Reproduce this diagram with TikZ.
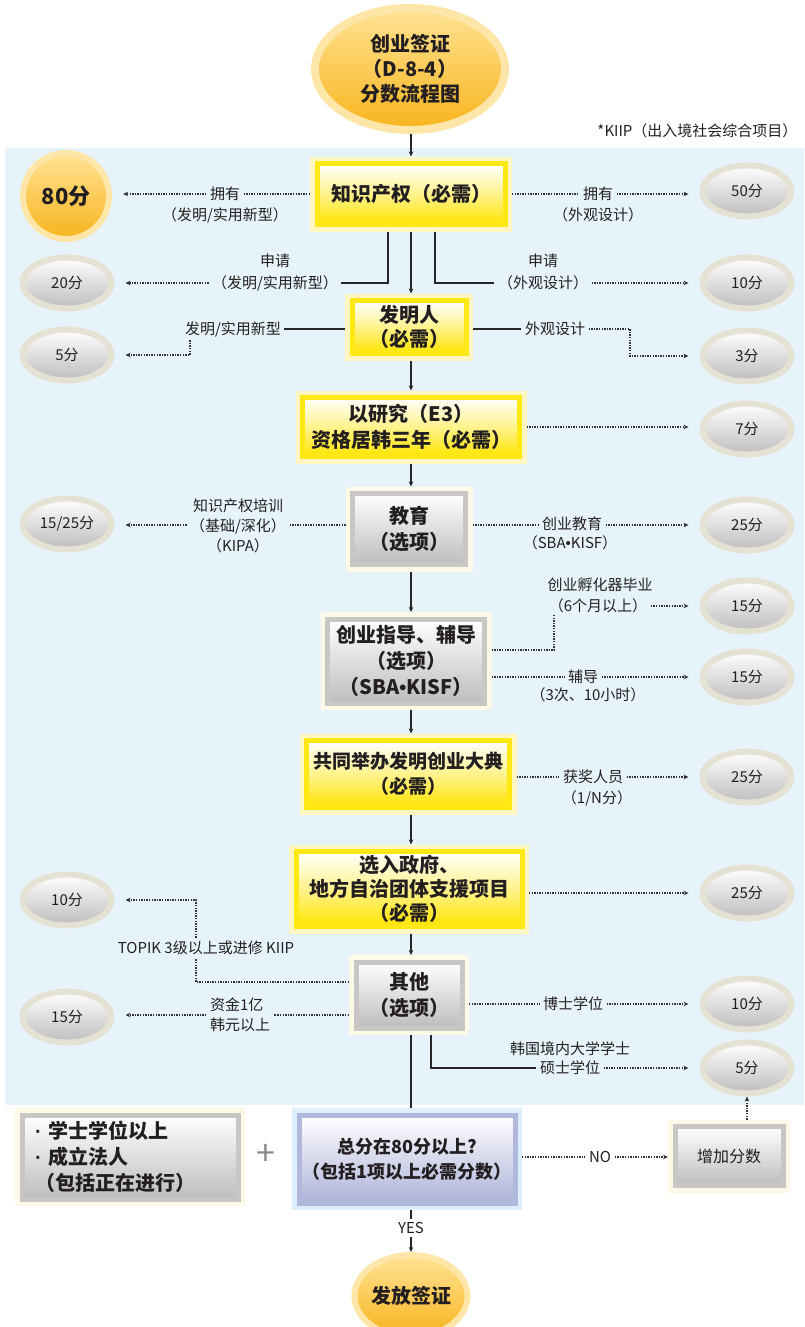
\documentclass[tikz,border=0pt]{standalone}
\usepackage{fontspec}
\setmainfont{Noto Sans CJK SC}
\newfontfamily\latf{Liberation Sans}
\usetikzlibrary{shapes.geometric,arrows.meta,calc}
\definecolor{bgblue}{HTML}{E7F3FB}
\definecolor{txt}{HTML}{231F20}
\definecolor{yframe}{HTML}{FFE814}
\definecolor{yhalo}{HTML}{FFF6C2}
\definecolor{yfill}{HTML}{FFE400}
\definecolor{gframe}{HTML}{C8C7C5}
\definecolor{ghalo}{HTML}{FCFAE6}
\definecolor{gfill}{HTML}{BEBDBB}
\definecolor{lframe}{HTML}{B2B7DC}
\definecolor{lhalo}{HTML}{DDEFFA}
\definecolor{lfill}{HTML}{AEB3DA}
\definecolor{gring}{HTML}{E5E2D3}
\definecolor{ellfill}{HTML}{BDBDBD}
\definecolor{oring}{HTML}{FDE6A8}
\definecolor{otop}{HTML}{FFE395}
\definecolor{obot}{HTML}{F8B41C}
\definecolor{plusgray}{HTML}{8A8A8A}
\tikzset{
  every node/.style={font=\fontsize{15}{20}\selectfont, text=txt},
  boxbase/.style={rectangle, line width=5pt, inner sep=0pt, outer sep=7pt, align=center,
    font=\bfseries\fontsize{20}{26}\selectfont},
  ybox/.style={boxbase, draw=yframe, top color=white, bottom color=yfill, middle color=yfill!45,
    preaction={draw=yhalo, line width=14pt}},
  gbox/.style={boxbase, draw=gframe, top color=white, bottom color=gfill,
    preaction={draw=ghalo, line width=14pt}},
  lbox/.style={boxbase, draw=lframe, top color=white, bottom color=lfill,
    preaction={draw=lhalo, line width=14pt}},
  gell/.style={ellipse, draw=gring, line width=6pt, top color=white, bottom color=ellfill,
    minimum width=89pt, minimum height=51pt, inner sep=0pt, outer sep=3pt},
  oell/.style={ellipse, draw=oring, line width=6pt, top color=otop, bottom color=obot,
    inner sep=0pt, outer sep=3pt, align=center},
  arr/.style={line width=1.1pt, draw=black!85, -{Stealth[length=5pt,width=4.5pt]}},
  solidl/.style={line width=1.6pt, draw=black!85},
  dot/.style={line width=1.4pt, draw=black!80, dash pattern=on 1.4pt off 1.2pt},
  dotarrow/.style={dot, -{Stealth[length=5pt,width=4.5pt]}},
  toell/.style={shorten >=11pt}
}
\begin{document}
\begin{tikzpicture}[x=1pt,y=-1pt]
\useasboundingbox (0,0) rectangle (804,1327);
\fill[bgblue] (5,148) rectangle (804,1105);

% title
\node[oell, minimum width=190pt, minimum height=122pt, line width=8pt, outer sep=4pt,
  font=\bfseries\fontsize{20}{25}\selectfont] (T) at (410,69) {创业签证\\（D-8-4）\\分数流程图};
\node[anchor=east] (kiip) at (801,131) {*KIIP（出入境社会综合项目）};

% main boxes
\node[ybox, minimum width=188pt, minimum height=61pt] (B1) at (411,194) {知识产权（必需）};
\node[ybox, minimum width=114pt, minimum height=53pt, font=\bfseries\fontsize{20}{24}\selectfont] (B2) at (409,327) {发明人\\（必需）};
\node[ybox, minimum width=217pt, minimum height=59pt] (B3) at (411,427) {以研究（E3）\\资格居韩三年（必需）};
\node[gbox, minimum width=113pt, minimum height=71pt] (B4) at (409,529) {教育\\（选项）};
\node[gbox, minimum width=157pt, minimum height=84pt] (B5) at (406,661) {创业指导、辅导\\（选项）\\（SBA{\latf\bfseries •}KISF）};
\node[ybox, minimum width=203pt, minimum height=67pt, font=\bfseries\fontsize{19}{25}\selectfont] (B6) at (408,774) {共同举办发明创业大典\\（必需）};
\node[ybox, minimum width=226pt, minimum height=75pt, font=\bfseries\fontsize{20}{24}\selectfont] (B7) at (409,889) {选入政府、\\地方自治团体支援项目\\（必需）};
\node[gbox, minimum width=106pt, minimum height=66pt] (B8) at (409,995) {其他\\（选项）};

\node[gbox, minimum width=216pt, minimum height=84pt, text width=190pt, align=left] (BL) at (130,1157) {{\latf\bfseries ·} 学士学位以上\\{\latf\bfseries ·} 成立法人\\（包括正在进行）};
\node[text=plusgray, font=\fontsize{34}{34}\selectfont] (plus) at (266,1155) {+};
\node[lbox, minimum width=216pt, minimum height=88pt, font=\bfseries\fontsize{18}{25}\selectfont] (D) at (407,1159) {总分在80分以上?\\（包括1项以上必需分数）};
\node[gbox, minimum width=108pt, minimum height=59pt, font=\fontsize{16}{20}\selectfont] (ADD) at (729,1156) {增加分数};
\node[oell, minimum width=102pt, minimum height=82pt, font=\bfseries\fontsize{20}{24}\selectfont] (V) at (411,1296) {发放签证};

% score ellipses
\node[oell, minimum width=86pt, minimum height=86pt, font=\bfseries\fontsize{22}{24}\selectfont] (L80) at (66,196) {80分};
\node[gell] (L20) at (67,283) {20分};
\node[gell] (L5) at (67,355) {5分};
\node[gell] (L1525) at (67,524) {15/25分};
\node[gell] (L10) at (67,900) {10分};
\node[gell] (L15) at (67,1017) {15分};
\node[gell] (R50) at (747,191) {50分};
\node[gell] (R10) at (747,283) {10分};
\node[gell] (R3) at (747,356) {3分};
\node[gell] (R7) at (747,429) {7分};
\node[gell] (R25a) at (747,525) {25分};
\node[gell] (R15a) at (747,606) {15分};
\node[gell] (R15b) at (747,677) {15分};
\node[gell] (R25b) at (747,777) {25分};
\node[gell] (R25c) at (747,893) {25分};
\node[gell] (R10b) at (747,1004) {10分};
\node[gell] (R5) at (747,1068) {5分};

% spine
\coordinate (sp) at (411,0);
\draw[arr] (T.south -| sp) -- (B1.north -| sp);
\draw[arr] (B1.south -| sp) -- (B2.north -| sp);
\draw[arr] (B2.south -| sp) -- (B3.north -| sp);
\draw[arr] (B3.south -| sp) -- (B4.north -| sp);
\draw[arr] (B4.south -| sp) -- (B5.north -| sp);
\draw[arr] (B5.south -| sp) -- (B6.north -| sp);
\draw[arr] (B6.south -| sp) -- (B7.north -| sp);
\draw[arr] (B7.south -| sp) -- (B8.north -| sp);
\draw[solidl, line width=1.1pt] (B8.south -| sp) -- (D.north -| sp);

% row 1
\node (l1a) at (225,194) {拥有};
\node (l1b) at (225,215) {（发明/实用新型）};
\draw[dot] (B1.west) -- (l1a.east);
\draw[dotarrow,toell] (l1a.west) -- (l1a.west -| L80.east);
\node (r1a) at (598,194) {拥有};
\node (r1b) at (598,215) {（外观设计）};
\draw[dot] (B1.east) -- (r1a.west);
\draw[dotarrow,toell] (r1a.east) -- (r1a.east -| R50.west);

% row 2
\node (l2a) at (275,261) {申请};
\node (l2b) at (275,283) {（发明/实用新型）};
\coordinate (bl) at (388,0);
\draw[solidl] (B1.south -| bl) |- (l2b.east);
\draw[dotarrow,toell] (l2b.west) -- (l2b.west -| L20.east);
\node (r2a) at (543,261) {申请};
\node (r2b) at (543,283) {（外观设计）};
\coordinate (br) at (435,0);
\draw[solidl] (B1.south -| br) |- (r2b.west);
\draw[dotarrow,toell] (r2b.east) -- (r2b.east -| R10.west);

% row 3
\node (l3) at (233,329) {发明/实用新型};
\draw[solidl] (B2.west |- l3) -- (l3.east);
\coordinate (c3l) at (190,0);
\draw[dotarrow,toell] (l3.south -| c3l) |- (L5.east);
\node (r3) at (555,329) {外观设计};
\draw[solidl] (B2.east |- r3) -- (r3.west);
\coordinate (c3r) at (630,356);
\draw[dotarrow,toell] (r3.east) -| (c3r) -- (c3r -| R3.west);

% row 4
\draw[dotarrow,toell] (B3.east) -- (B3.east -| R7.west);

% row 5
\coordinate (y5) at (0,525);
\node[align=center] (l5) at (238,526) {知识产权培训\\（基础/深化）\\（KIPA）};
\draw[dot] (B4.west |- y5) -- (y5 -| l5.east);
\draw[dotarrow,toell] (y5 -| l5.west) -- (y5 -| L1525.east);
\node (r5a) at (572,524) {创业教育};
\node (r5b) at (570,543) {（SBA{\latf •}KISF）};
\draw[dot] (B4.east |- y5) -- (y5 -| r5a.west);
\draw[dotarrow,toell] (y5 -| r5a.east) -- (y5 -| R25a.west);

% row 6
\node (r6a) at (600,585) {创业孵化器毕业};
\node (r6b) at (598,606) {（6个月以上）};
\coordinate (c6) at (554,650);
\coordinate (c6t) at (554,615);
\draw[dot] (B5.east |- c6) -- (c6) -- (c6t);
\draw[dotarrow,toell] (r6b.east) -- (r6b.east -| R15a.west);
\node (r6c) at (583,677) {辅导};
\node (r6d) at (588,695) {（3次、10小时）};
\draw[dot] (B5.east |- r6c) -- (r6c.west);
\draw[dotarrow,toell] (r6c.east) -- (r6c.east -| R15b.west);

% row 7
\node (r7a) at (593,777) {获奖人员};
\node (r7b) at (597,798) {（1/N分）};
\draw[dot] (B6.east |- r7a) -- (r7a.west);
\draw[dotarrow,toell] (r7a.east) -- (r7a.east -| R25b.west);

% row 8
\draw[dotarrow,toell] (B7.east |- R25c) -- (R25c.west);

% row 9
\node (l9) at (206,948) {TOPIK 3级以上或进修 KIIP};
\coordinate (c9a) at (196,982);
\coordinate (c9b) at (196,900);
\draw[dot] (B8.west |- c9a) -- (c9a) -- (c9a |- l9.south);
\draw[dotarrow,toell] (c9a |- l9.north) -- (c9b) -- (c9b -| L10.east);
\node[align=left] (l9b) at (240,1015) {资金1亿\\韩元以上};
\draw[dot] (B8.west |- l9b) -- (l9b.east);
\draw[dotarrow,toell] (l9b.west) -- (l9b.west -| L15.east);
\node (r9a) at (573,1004) {博士学位};
\draw[dot] (B8.east |- r9a) -- (r9a.west);
\draw[dotarrow,toell] (r9a.east) -- (r9a.east -| R10b.west);
\node (r9b) at (570,1049) {韩国境内大学学士};
\node (r9c) at (570,1068) {硕士学位};
\coordinate (c9c) at (431,0);
\draw[solidl] (B8.south -| c9c) |- (r9c.west);
\draw[dotarrow,toell] (r9c.east) -- (r9c.east -| R5.west);

% decision
\node (no) at (600,1157) {NO};
\draw[dot] (D.east |- no) -- (no.west);
\draw[dotarrow] (no.east) -- (no.east -| ADD.west);
\draw[dotarrow] (ADD.north -| R5) -- (R5.south);
\node (yes) at (411,1228) {YES};
\draw[solidl, line width=1.1pt] (D.south -| sp) -- (yes.north -| sp);
\draw[arr] (yes.south -| sp) -- (V.north -| sp);
\end{tikzpicture}
\end{document}
